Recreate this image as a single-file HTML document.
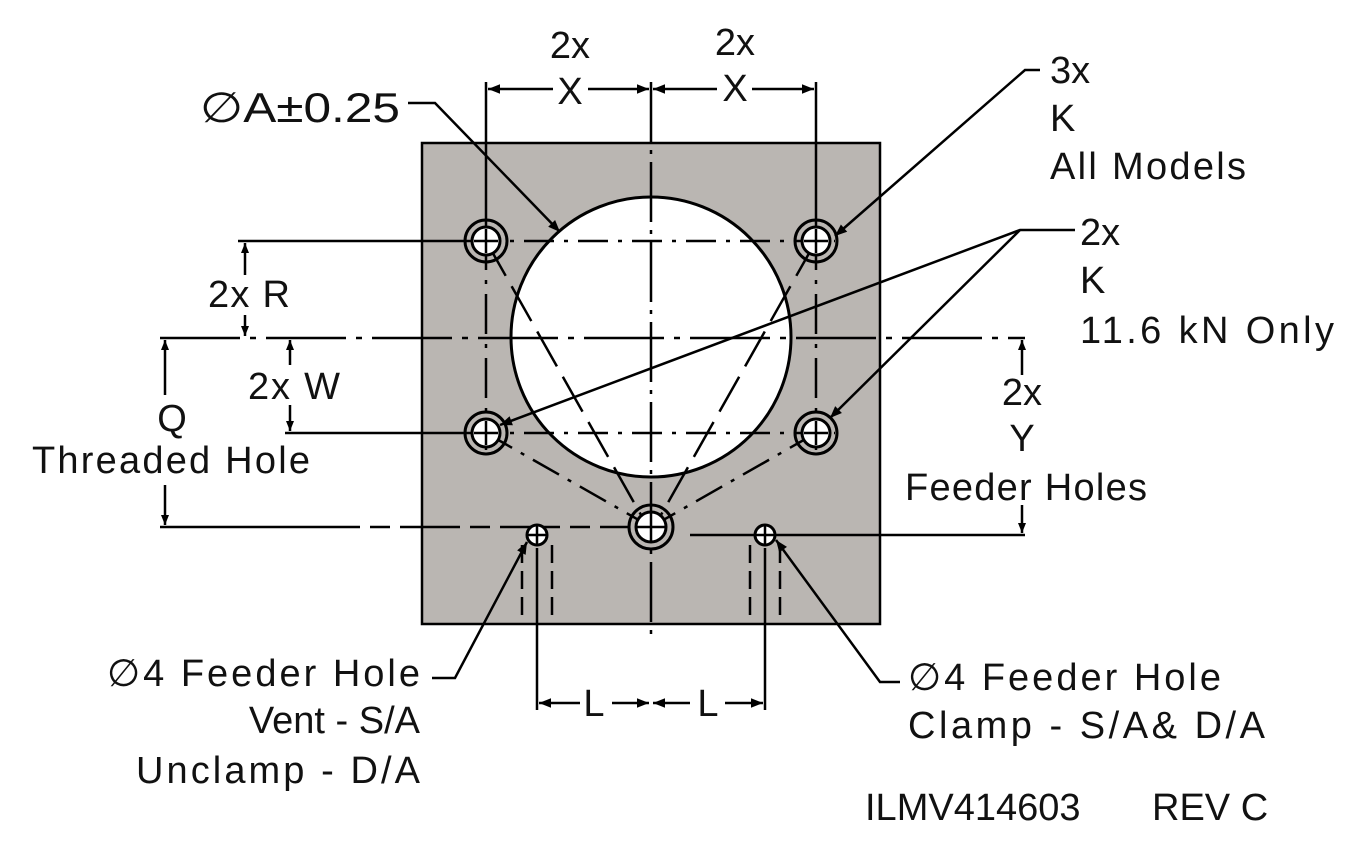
<!DOCTYPE html>
<html><head><meta charset="utf-8"><style>
html,body{margin:0;padding:0;background:#fff}
svg{display:block}
text{font-family:"Liberation Sans","DejaVu Sans",sans-serif;font-size:38px;fill:#111}
</style></head><body>
<svg width="1349" height="844" viewBox="0 0 1349 844" xmlns="http://www.w3.org/2000/svg">
<defs>
<marker id="a" viewBox="0 0 10 10" refX="10" refY="5" markerWidth="16" markerHeight="12" markerUnits="userSpaceOnUse" orient="auto"><path d="M0,1 L10,5 L0,9 z" fill="#000"/></marker>
<marker id="s" viewBox="0 0 10 10" refX="10" refY="5" markerWidth="10" markerHeight="10" markerUnits="userSpaceOnUse" orient="auto"><path d="M0,1 L10,5 L0,9 z" fill="#000"/></marker>
</defs>
<rect x="422" y="143" width="458" height="481" fill="#bab6b2" stroke="#000" stroke-width="2.5"/>
<circle cx="651" cy="337" r="140" fill="#fff" stroke="#000" stroke-width="3"/>
<g stroke="#000" stroke-width="2.5" fill="none">
<line x1="651" y1="82" x2="651" y2="640" stroke-dasharray="60,8,4,8"/>
<line x1="160" y1="338" x2="1025" y2="338" stroke-dasharray="80,10,6,10"/>
<line x1="470" y1="241" x2="835" y2="241" stroke-dasharray="30,10,4,10"/>
<line x1="470" y1="433" x2="835" y2="433" stroke-dasharray="30,10,4,10"/>
<line x1="486" y1="230" x2="486" y2="450" stroke-dasharray="40,10,4,10"/>
<line x1="816" y1="230" x2="816" y2="450" stroke-dasharray="40,10,4,10"/>
<line x1="486" y1="433" x2="651" y2="527" stroke-dasharray="30,10,4,10"/>
<line x1="816" y1="433" x2="651" y2="527" stroke-dasharray="30,10,4,10"/>
<line x1="486" y1="241" x2="645" y2="522" stroke-dasharray="40,12"/>
<line x1="816" y1="241" x2="657" y2="522" stroke-dasharray="40,12"/>
<line x1="486" y1="82" x2="486" y2="228"/>
<line x1="816" y1="82" x2="816" y2="228"/>
<line x1="238" y1="241" x2="470" y2="241"/>
<line x1="285" y1="433" x2="470" y2="433"/>
<line x1="160" y1="527" x2="360" y2="527"/>
<line x1="370" y1="527" x2="630" y2="527" stroke-dasharray="20,10,60,10"/>
<line x1="690" y1="535" x2="1025" y2="535"/>
<line x1="537" y1="548" x2="537" y2="710"/>
<line x1="765" y1="548" x2="765" y2="710"/>
<line x1="522" y1="545" x2="522" y2="624" stroke-dasharray="18,8"/>
<line x1="552" y1="545" x2="552" y2="624" stroke-dasharray="18,8"/>
<line x1="750" y1="545" x2="750" y2="624" stroke-dasharray="18,8"/>
<line x1="780" y1="545" x2="780" y2="624" stroke-dasharray="18,8"/>
<line x1="553" y1="89" x2="488" y2="89" marker-end="url(#a)"/>
<line x1="588" y1="89" x2="649" y2="89" marker-end="url(#a)"/>
<line x1="717" y1="89" x2="653" y2="89" marker-end="url(#a)"/>
<line x1="752" y1="89" x2="814" y2="89" marker-end="url(#a)"/>
<line x1="245" y1="275" x2="245" y2="243" marker-end="url(#s)"/>
<line x1="245" y1="315" x2="245" y2="336" marker-end="url(#s)"/>
<line x1="290" y1="365" x2="290" y2="340" marker-end="url(#s)"/>
<line x1="290" y1="405" x2="290" y2="431" marker-end="url(#s)"/>
<line x1="165" y1="395" x2="165" y2="340" marker-end="url(#s)"/>
<line x1="165" y1="485" x2="165" y2="525" marker-end="url(#s)"/>
<line x1="1022" y1="375" x2="1022" y2="340" marker-end="url(#s)"/>
<line x1="1022" y1="505" x2="1022" y2="533" marker-end="url(#s)"/>
<line x1="580" y1="703" x2="539" y2="703" marker-end="url(#a)"/>
<line x1="612" y1="703" x2="649" y2="703" marker-end="url(#a)"/>
<line x1="690" y1="703" x2="653" y2="703" marker-end="url(#a)"/>
<line x1="725" y1="703" x2="763" y2="703" marker-end="url(#a)"/>
<polyline points="408,103 435,103 560,232" marker-end="url(#a)"/>
<polyline points="1040,70 1025,70 835,236" marker-end="url(#a)"/>
<polyline points="1075,230 1020,230 500,425" marker-end="url(#a)"/>
<line x1="1020" y1="230" x2="830" y2="418" marker-end="url(#a)"/>
<polyline points="432,678 455,678 527,542" marker-end="url(#a)"/>
<polyline points="900,682 880,682 776,540" marker-end="url(#a)"/>
</g>
<g stroke="#000" stroke-width="3">
<g fill="#fff">
<circle cx="486" cy="241" r="21" fill="none"/><circle cx="486" cy="241" r="14"/>
<circle cx="816" cy="241" r="21" fill="none"/><circle cx="816" cy="241" r="14"/>
<circle cx="486" cy="433" r="21" fill="none"/><circle cx="486" cy="433" r="14"/>
<circle cx="816" cy="433" r="21" fill="none"/><circle cx="816" cy="433" r="14"/>
<circle cx="651" cy="527" r="22" fill="none"/><circle cx="651" cy="527" r="15"/>
<circle cx="537" cy="535" r="10"/><circle cx="765" cy="535" r="10"/>
</g>
<path stroke-width="2.5" d="M474 241H498M486 229V253M804 241H828M816 229V253M474 433H498M486 421V445M804 433H828M816 421V445M636 527H666M651 512V542M528 535H546M537 526V544M756 535H774M765 526V544"/>
</g>
<text x="570" y="58" text-anchor="middle">2x</text>
<text x="570" y="104" text-anchor="middle">X</text>
<text x="735" y="55" text-anchor="middle">2x</text>
<text x="735" y="101" text-anchor="middle">X</text>
<text x="200" y="122" style="font-size:42px" textLength="200" lengthAdjust="spacingAndGlyphs">∅A±0.25</text>
<text x="1050" y="83">3x</text>
<text x="1050" y="131">K</text>
<text x="1050" y="179" textLength="196">All Models</text>
<text x="1080" y="245">2x</text>
<text x="1080" y="293">K</text>
<text x="1080" y="343" textLength="254">11.6 kN Only</text>
<text x="208" y="307" textLength="82">2x R</text>
<text x="248" y="399" textLength="92">2x W</text>
<text x="172" y="431" text-anchor="middle">Q</text>
<text x="32" y="473" textLength="278">Threaded Hole</text>
<text x="1022" y="405" text-anchor="middle">2x</text>
<text x="1022" y="451" text-anchor="middle">Y</text>
<text x="905" y="500" textLength="242">Feeder Holes</text>
<text x="594" y="716" text-anchor="middle">L</text>
<text x="708" y="716" text-anchor="middle">L</text>
<text x="107" y="686" textLength="313">∅4 Feeder Hole</text>
<text x="420" y="733" text-anchor="end">Vent - S/A</text>
<text x="420" y="783" text-anchor="end" textLength="284">Unclamp - D/A</text>
<text x="908" y="690" textLength="313">∅4 Feeder Hole</text>
<text x="908" y="738" textLength="357">Clamp - S/A&amp; D/A</text>
<text x="865" y="820">ILMV414603</text>
<text x="1152" y="820">REV C</text>
</svg>
</body></html>
